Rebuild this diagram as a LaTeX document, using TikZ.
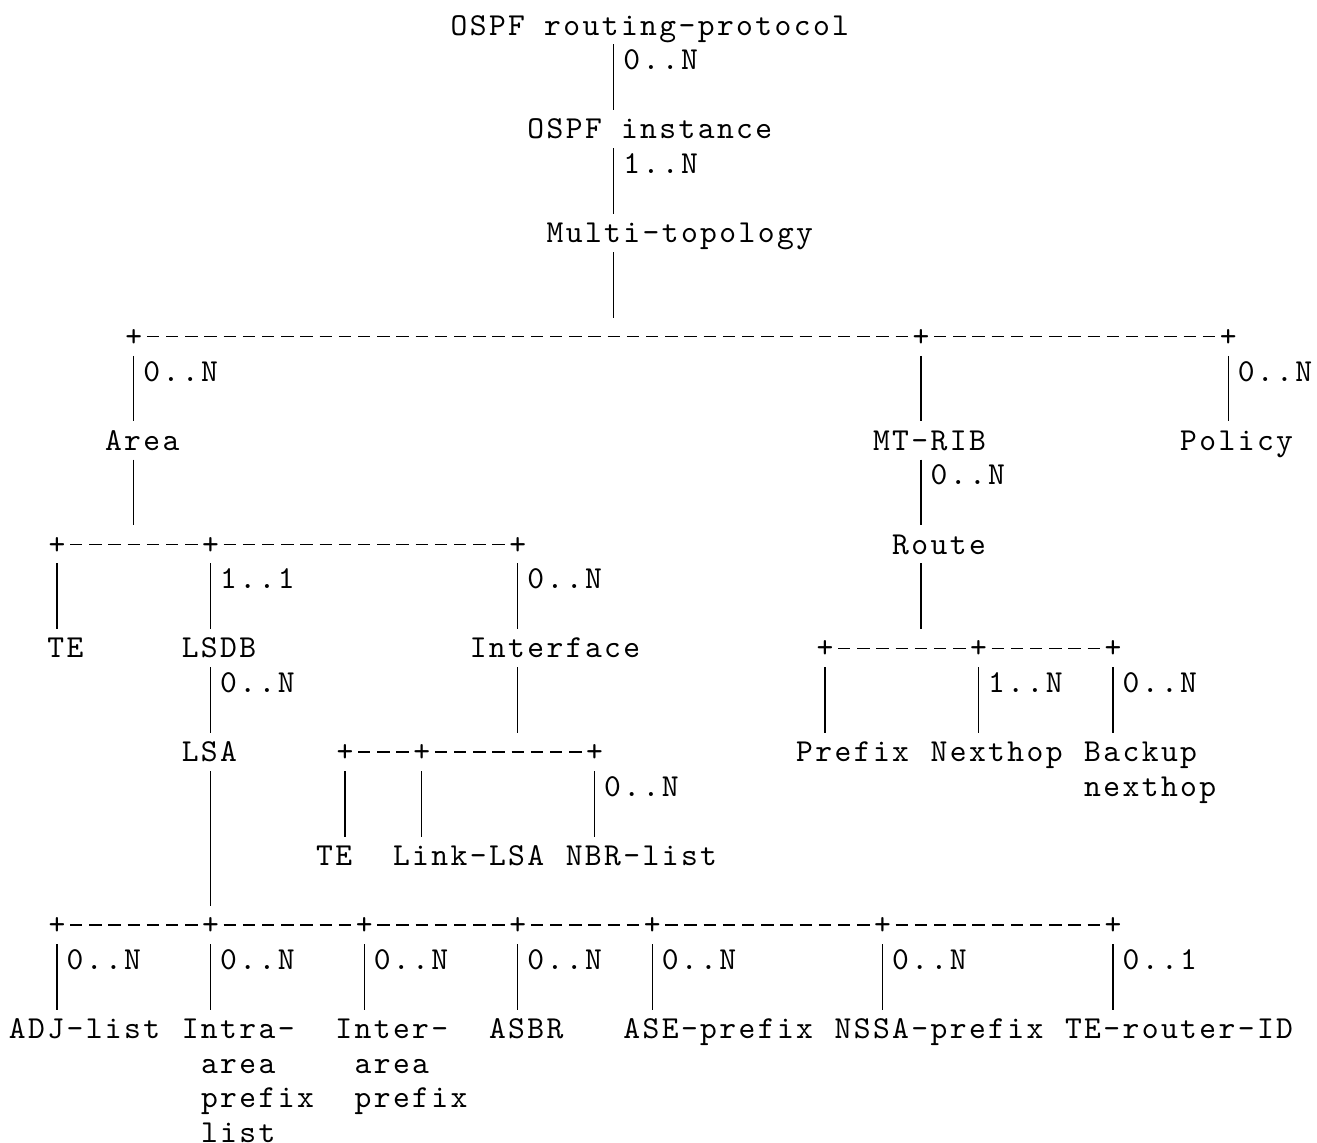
\documentclass[tikz,border=0pt]{standalone}
\usepackage{fontspec}
\newfontfamily\asciifont{lmmono10-regular.otf}[LetterSpace=7.5]
\usepackage{tikz}
\newcommand\CharW{9.6pt}
\newcommand\LineH{17.3pt}
\newcommand\LeftM{4.5pt}
\newcommand\TopM{17.5pt}
\tikzstyle{entity}=[anchor=base west,inner sep=0pt,outer sep=0pt,
                     text height=13.47pt,text depth=3.83pt,
                     font=\asciifont\fontsize{16pt}{17.3pt}\selectfont]
\tikzstyle{junction}=[entity,anchor=base,minimum width=\CharW,text centered]
\tikzstyle{link}=[line width=0.6pt,shorten <=0.9pt,shorten >=0.9pt]
\tikzstyle{bus}=[line width=0.6pt,dash pattern=on 6.2pt off 3.4pt,dash phase=7.9pt]

\begin{document}
\begin{tikzpicture}[scale=1]
      \path[use as bounding box,fill=white] (0,0) rectangle (658.5pt,-571pt);
      \node[entity] (proto) at (\LeftM+\CharW*23,-\TopM-\LineH*0) {OSPF routing-protocol};
      \node[entity] (protoN) at (\LeftM+\CharW*32,-\TopM-\LineH*1) {0..N};
      \node[entity] (inst) at (\LeftM+\CharW*27,-\TopM-\LineH*3) {OSPF instance};
      \node[entity] (instN) at (\LeftM+\CharW*32,-\TopM-\LineH*4) {1..N};
      \node[entity] (mtopo) at (\LeftM+\CharW*28,-\TopM-\LineH*6) {Multi-topology};
      \coordinate (spine) at (\LeftM+\CharW*31.5,0);
      \node[junction] (jArea) at (\LeftM+\CharW*6.5,-\TopM-\LineH*9) {+};
      \node[junction] (jRib) at (\LeftM+\CharW*47.5,-\TopM-\LineH*9) {+};
      \node[junction] (jPolicy) at (\LeftM+\CharW*63.5,-\TopM-\LineH*9) {+};
      \node[entity] (areaN) at (\LeftM+\CharW*7,-\TopM-\LineH*10) {0..N};
      \node[entity] (policyN) at (\LeftM+\CharW*64,-\TopM-\LineH*10) {0..N};
      \node[entity] (area) at (\LeftM+\CharW*5,-\TopM-\LineH*12) {Area};
      \node[entity] (mtrib) at (\LeftM+\CharW*45,-\TopM-\LineH*12) {MT-RIB};
      \node[entity] (policy) at (\LeftM+\CharW*61,-\TopM-\LineH*12) {Policy};
      \node[entity] (routeN) at (\LeftM+\CharW*48,-\TopM-\LineH*13) {0..N};
      \node[entity] (route) at (\LeftM+\CharW*46,-\TopM-\LineH*15) {Route};
      \node[junction] (jTe) at (\LeftM+\CharW*2.5,-\TopM-\LineH*15) {+};
      \node[junction] (jLsdb) at (\LeftM+\CharW*10.5,-\TopM-\LineH*15) {+};
      \node[junction] (jIntf) at (\LeftM+\CharW*26.5,-\TopM-\LineH*15) {+};
      \node[entity] (lsdbN) at (\LeftM+\CharW*11,-\TopM-\LineH*16) {1..1};
      \node[entity] (intfN) at (\LeftM+\CharW*27,-\TopM-\LineH*16) {0..N};
      \node[entity] (teArea) at (\LeftM+\CharW*2,-\TopM-\LineH*18) {TE};
      \node[entity] (lsdb) at (\LeftM+\CharW*9,-\TopM-\LineH*18) {LSDB};
      \node[entity] (intf) at (\LeftM+\CharW*24,-\TopM-\LineH*18) {Interface};
      \node[junction] (jPrefix) at (\LeftM+\CharW*42.5,-\TopM-\LineH*18) {+};
      \node[junction] (jNexthop) at (\LeftM+\CharW*50.5,-\TopM-\LineH*18) {+};
      \node[junction] (jBackup) at (\LeftM+\CharW*57.5,-\TopM-\LineH*18) {+};
      \node[entity] (lsaN) at (\LeftM+\CharW*11,-\TopM-\LineH*19) {0..N};
      \node[entity] (nexthopN) at (\LeftM+\CharW*51,-\TopM-\LineH*19) {1..N};
      \node[entity] (backupN) at (\LeftM+\CharW*58,-\TopM-\LineH*19) {0..N};
      \node[entity] (lsa) at (\LeftM+\CharW*9,-\TopM-\LineH*21) {LSA};
      \node[junction] (jTeIf) at (\LeftM+\CharW*17.5,-\TopM-\LineH*21) {+};
      \node[junction] (jLink) at (\LeftM+\CharW*21.5,-\TopM-\LineH*21) {+};
      \node[junction] (jNbr) at (\LeftM+\CharW*30.5,-\TopM-\LineH*21) {+};
      \node[entity] (prefix) at (\LeftM+\CharW*41,-\TopM-\LineH*21) {Prefix};
      \node[entity] (nexthop) at (\LeftM+\CharW*48,-\TopM-\LineH*21) {Nexthop};
      \node[entity] (backup) at (\LeftM+\CharW*56,-\TopM-\LineH*21) {Backup};
      \node[entity] (backupB) at (\LeftM+\CharW*56,-\TopM-\LineH*22) {nexthop};
      \node[entity] (nbrN) at (\LeftM+\CharW*31,-\TopM-\LineH*22) {0..N};
      \node[entity] (teIf) at (\LeftM+\CharW*16,-\TopM-\LineH*24) {TE};
      \node[entity] (linklsa) at (\LeftM+\CharW*20,-\TopM-\LineH*24) {Link-LSA};
      \node[entity] (nbr) at (\LeftM+\CharW*29,-\TopM-\LineH*24) {NBR-list};
      \node[junction] (jAdj) at (\LeftM+\CharW*2.5,-\TopM-\LineH*26) {+};
      \node[junction] (jIntra) at (\LeftM+\CharW*10.5,-\TopM-\LineH*26) {+};
      \node[junction] (jInter) at (\LeftM+\CharW*18.5,-\TopM-\LineH*26) {+};
      \node[junction] (jAsbr) at (\LeftM+\CharW*26.5,-\TopM-\LineH*26) {+};
      \node[junction] (jAse) at (\LeftM+\CharW*33.5,-\TopM-\LineH*26) {+};
      \node[junction] (jNssa) at (\LeftM+\CharW*45.5,-\TopM-\LineH*26) {+};
      \node[junction] (jTerid) at (\LeftM+\CharW*57.5,-\TopM-\LineH*26) {+};
      \node[entity] (adjN) at (\LeftM+\CharW*3,-\TopM-\LineH*27) {0..N};
      \node[entity] (intraN) at (\LeftM+\CharW*11,-\TopM-\LineH*27) {0..N};
      \node[entity] (interN) at (\LeftM+\CharW*19,-\TopM-\LineH*27) {0..N};
      \node[entity] (asbrN) at (\LeftM+\CharW*27,-\TopM-\LineH*27) {0..N};
      \node[entity] (aseN) at (\LeftM+\CharW*34,-\TopM-\LineH*27) {0..N};
      \node[entity] (nssaN) at (\LeftM+\CharW*46,-\TopM-\LineH*27) {0..N};
      \node[entity] (teridN) at (\LeftM+\CharW*58,-\TopM-\LineH*27) {0..1};
      \node[entity] (adj) at (\LeftM+\CharW*0,-\TopM-\LineH*29) {ADJ-list};
      \node[entity] (intra) at (\LeftM+\CharW*9,-\TopM-\LineH*29) {Intra-};
      \node[entity] (inter) at (\LeftM+\CharW*17,-\TopM-\LineH*29) {Inter-};
      \node[entity] (asbr) at (\LeftM+\CharW*25,-\TopM-\LineH*29) {ASBR};
      \node[entity] (ase) at (\LeftM+\CharW*32,-\TopM-\LineH*29) {ASE-prefix};
      \node[entity] (nssa) at (\LeftM+\CharW*43,-\TopM-\LineH*29) {NSSA-prefix};
      \node[entity] (terid) at (\LeftM+\CharW*55,-\TopM-\LineH*29) {TE-router-ID};
      \node[entity] (intraB) at (\LeftM+\CharW*10,-\TopM-\LineH*30) {area};
      \node[entity] (interB) at (\LeftM+\CharW*18,-\TopM-\LineH*30) {area};
      \node[entity] (intraC) at (\LeftM+\CharW*10,-\TopM-\LineH*31) {prefix};
      \node[entity] (interC) at (\LeftM+\CharW*18,-\TopM-\LineH*31) {prefix};
      \node[entity] (intraD) at (\LeftM+\CharW*10,-\TopM-\LineH*32) {list};
      \draw[link] (proto.south -| spine) -- (inst.north -| spine);
      \draw[link] (inst.south -| spine) -- (mtopo.north -| spine);
      \draw[link] (mtopo.south -| spine) -- (jArea.north -| spine);
      \draw[bus] (jArea) -- (jRib);
      \draw[bus] (jRib) -- (jPolicy);
      \draw[link] (jArea.south) -- (area.north -| jArea.south);
      \draw[link] (jRib.south) -- (mtrib.north -| jRib.south);
      \draw[link] (jPolicy.south) -- (policy.north -| jPolicy.south);
      \draw[link] (area.south -| jArea) -- (jTe.north -| jArea);
      \draw[bus] (jTe) -- (jLsdb);
      \draw[bus] (jLsdb) -- (jIntf);
      \draw[link] (jTe.south) -- (teArea.north -| jTe.south);
      \draw[link] (jLsdb.south) -- (lsdb.north -| jLsdb.south);
      \draw[link] (jIntf.south) -- (intf.north -| jIntf.south);
      \draw[link] (mtrib.south -| jRib) -- (route.north -| jRib);
      \draw[link] (route.south -| jRib) -- (jPrefix.north -| jRib);
      \draw[bus] (jPrefix) -- (jNexthop);
      \draw[bus] (jNexthop) -- (jBackup);
      \draw[link] (jPrefix.south) -- (prefix.north -| jPrefix.south);
      \draw[link] (jNexthop.south) -- (nexthop.north -| jNexthop.south);
      \draw[link] (jBackup.south) -- (backup.north -| jBackup.south);
      \draw[link] (lsdb.south -| jLsdb) -- (lsa.north -| jLsdb);
      \draw[link] (intf.south -| jIntf) -- (jTeIf.north -| jIntf);
      \draw[bus] (jTeIf) -- (jLink);
      \draw[bus] (jLink) -- (jNbr);
      \draw[link] (jTeIf.south) -- (teIf.north -| jTeIf.south);
      \draw[link] (jLink.south) -- (linklsa.north -| jLink.south);
      \draw[link] (jNbr.south) -- (nbr.north -| jNbr.south);
      \draw[link] (lsa.south -| jLsdb) -- (jIntra.north);
      \draw[bus] (jAdj) -- (jIntra);
      \draw[bus] (jIntra) -- (jInter);
      \draw[bus] (jInter) -- (jAsbr);
      \draw[bus] (jAsbr) -- (jAse);
      \draw[bus] (jAse) -- (jNssa);
      \draw[bus] (jNssa) -- (jTerid);
      \draw[link] (jAdj.south) -- (adj.north -| jAdj.south);
      \draw[link] (jIntra.south) -- (intra.north -| jIntra.south);
      \draw[link] (jInter.south) -- (inter.north -| jInter.south);
      \draw[link] (jAsbr.south) -- (asbr.north -| jAsbr.south);
      \draw[link] (jAse.south) -- (ase.north -| jAse.south);
      \draw[link] (jNssa.south) -- (nssa.north -| jNssa.south);
      \draw[link] (jTerid.south) -- (terid.north -| jTerid.south);
   \end{tikzpicture}
\end{document}
